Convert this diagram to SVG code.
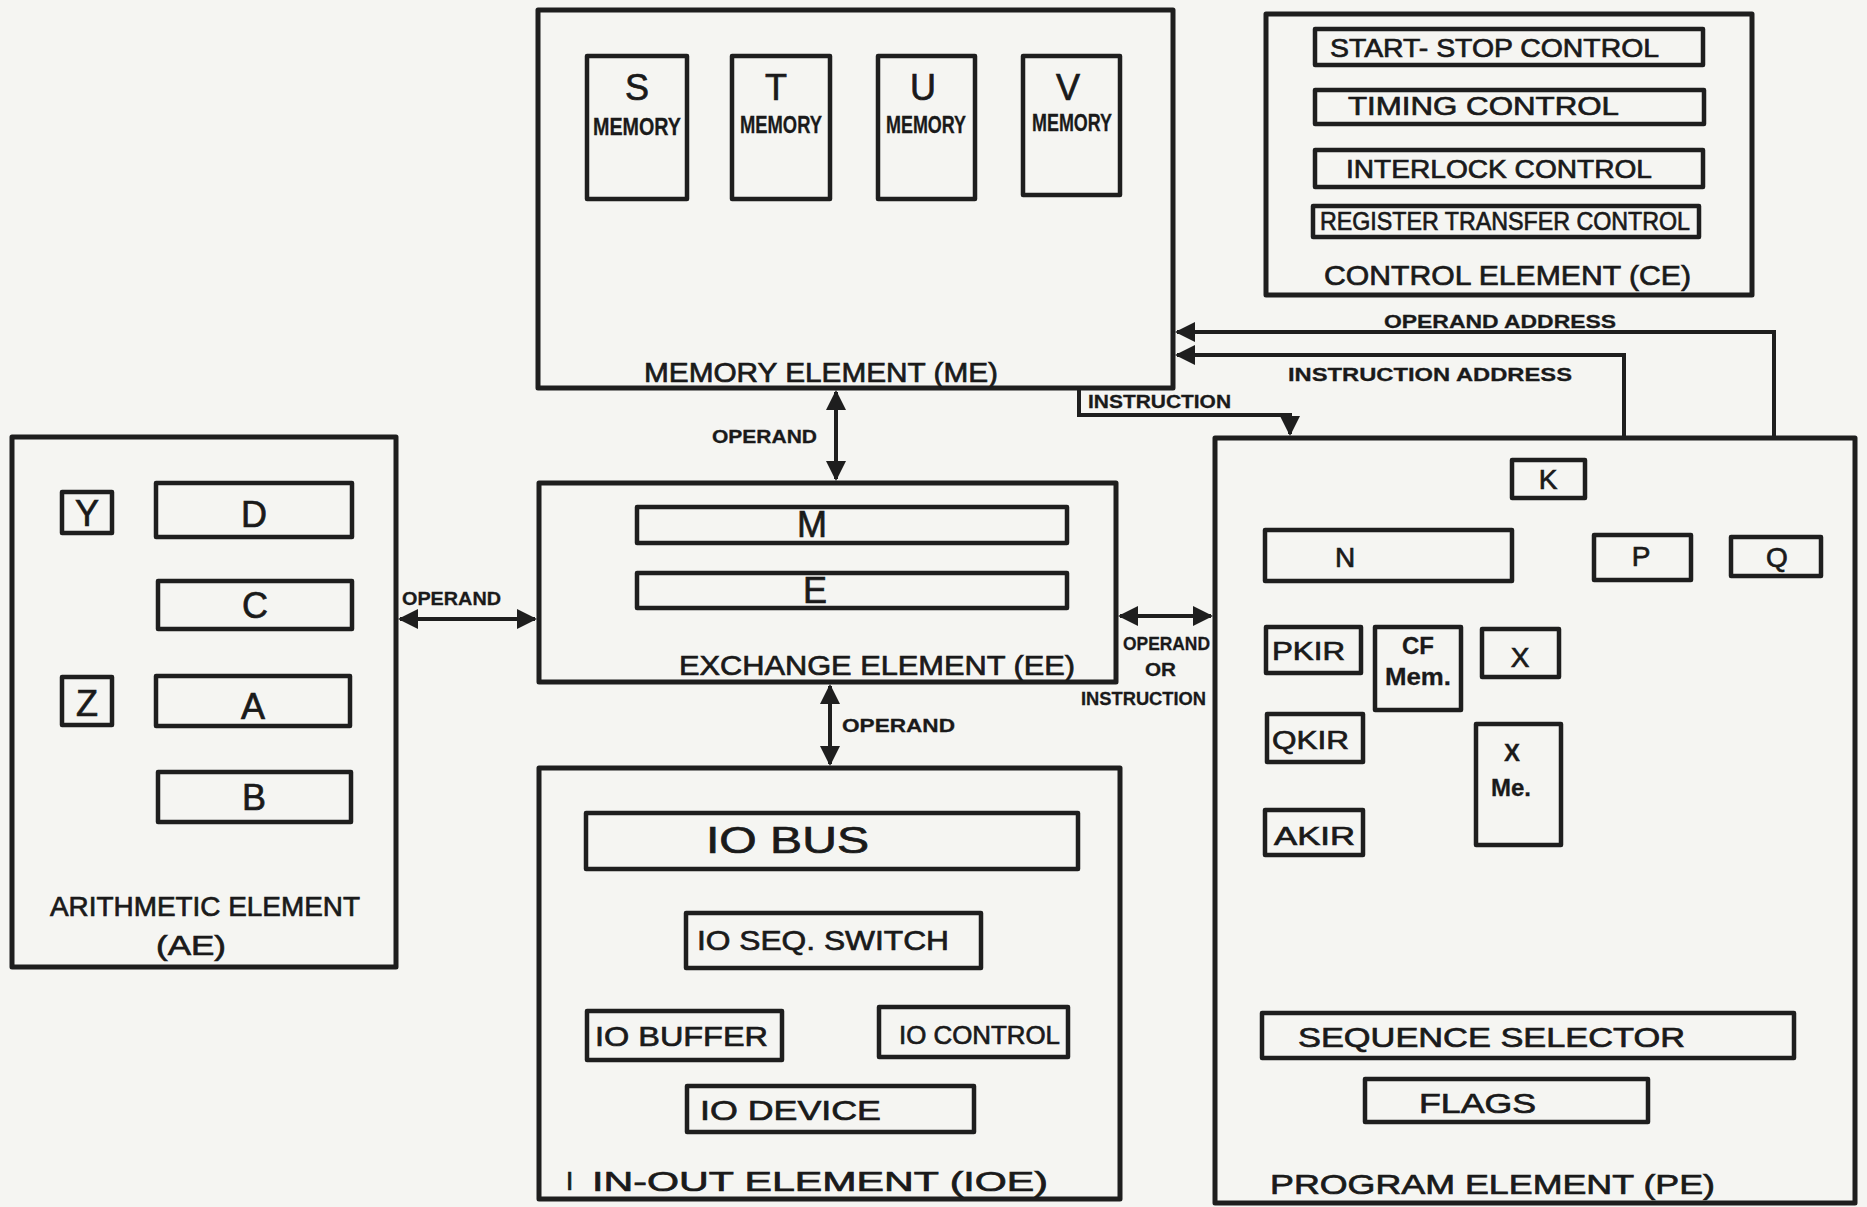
<svg xmlns="http://www.w3.org/2000/svg" width="1867" height="1207" viewBox="0 0 1867 1207">
<style>
.bg{fill:#f5f5f2}
.outer{fill:none;stroke:#1e1e1e;stroke-width:5;stroke-linejoin:round}
.inner{fill:none;stroke:#1e1e1e;stroke-width:4.5;stroke-linejoin:round}
.conn{fill:none;stroke:#1e1e1e;stroke-width:4}
text{font-family:"Liberation Sans","DejaVu Sans",sans-serif;fill:#1a1a1a;stroke:#1a1a1a;stroke-width:0.7}
.lbl{font-size:28px}
.big{font-size:36px}
.mid{font-size:26px}
.sm{font-size:19px;font-weight:bold;stroke-width:0.3}
.mem{font-size:24px;font-weight:bold;stroke-width:0.3}
</style>
<defs>
<marker id="ah" viewBox="0 0 10 10" refX="9" refY="5" markerWidth="24" markerHeight="20" markerUnits="userSpaceOnUse" orient="auto-start-reverse">
<path d="M0,0 L10,5 L0,10 Z" fill="#1e1e1e"/>
</marker>
</defs>
<rect class="bg" x="0" y="0" width="1867" height="1207"/>

<g id="ME">
<rect class="outer" x="538" y="10" width="635" height="378"/>
<rect class="inner" x="587" y="56" width="100" height="143"/>
<rect class="inner" x="732" y="56" width="98" height="143"/>
<rect class="inner" x="878" y="56" width="97" height="143"/>
<rect class="inner" x="1023" y="56" width="97" height="139"/>
<text class="big" x="637" y="100" text-anchor="middle">S</text>
<text class="big" x="776" y="100" text-anchor="middle">T</text>
<text class="big" x="923" y="100" text-anchor="middle">U</text>
<text class="big" x="1068" y="100" text-anchor="middle">V</text>
<text class="mem" x="637" y="135" text-anchor="middle" textLength="88" lengthAdjust="spacingAndGlyphs">MEMORY</text>
<text class="mem" x="781" y="133" text-anchor="middle" textLength="82" lengthAdjust="spacingAndGlyphs">MEMORY</text>
<text class="mem" x="926" y="133" text-anchor="middle" textLength="80" lengthAdjust="spacingAndGlyphs">MEMORY</text>
<text class="mem" x="1072" y="131" text-anchor="middle" textLength="80" lengthAdjust="spacingAndGlyphs">MEMORY</text>
<text class="lbl" x="644" y="382" textLength="354" lengthAdjust="spacingAndGlyphs">MEMORY ELEMENT (ME)</text>
</g>

<g id="CE">
<rect class="outer" x="1266" y="14" width="486" height="281"/>
<rect class="inner" x="1315" y="29" width="388" height="36"/>
<rect class="inner" x="1315" y="90" width="389" height="34"/>
<rect class="inner" x="1315" y="150" width="388" height="37"/>
<rect class="inner" x="1313" y="206" width="386" height="31"/>
<text class="mid" x="1330" y="57" textLength="329" lengthAdjust="spacingAndGlyphs">START- STOP CONTROL</text>
<text class="mid" x="1348" y="115" textLength="271" lengthAdjust="spacingAndGlyphs">TIMING CONTROL</text>
<text class="mid" x="1346" y="178" textLength="306" lengthAdjust="spacingAndGlyphs">INTERLOCK CONTROL</text>
<text class="mid" x="1320" y="230" textLength="370" lengthAdjust="spacingAndGlyphs">REGISTER TRANSFER CONTROL</text>
<text class="lbl" x="1324" y="285" textLength="367" lengthAdjust="spacingAndGlyphs">CONTROL ELEMENT (CE)</text>
</g>

<g id="AE">
<rect class="outer" x="12" y="437" width="384" height="530"/>
<rect class="inner" x="62" y="492" width="50" height="41"/>
<rect class="inner" x="156" y="483" width="196" height="54"/>
<rect class="inner" x="158" y="581" width="194" height="48"/>
<rect class="inner" x="62" y="677" width="50" height="48"/>
<rect class="inner" x="156" y="676" width="194" height="50"/>
<rect class="inner" x="158" y="772" width="193" height="50"/>
<text class="big" x="87" y="526" text-anchor="middle" font-size="32">Y</text>
<text class="big" x="87" y="716" text-anchor="middle" font-size="32">Z</text>
<text class="big" x="254" y="527" text-anchor="middle">D</text>
<text class="big" x="255" y="618" text-anchor="middle">C</text>
<text class="big" x="253" y="719" text-anchor="middle">A</text>
<text class="big" x="254" y="810" text-anchor="middle">B</text>
<text class="lbl" x="50" y="916" textLength="310" lengthAdjust="spacingAndGlyphs">ARITHMETIC ELEMENT</text>
<text class="lbl" x="156" y="955" textLength="70" lengthAdjust="spacingAndGlyphs">(AE)</text>
</g>

<g id="EE">
<rect class="outer" x="539" y="483" width="577" height="199"/>
<rect class="inner" x="637" y="507" width="430" height="36"/>
<rect class="inner" x="637" y="573" width="430" height="35"/>
<text class="big" x="812" y="537" text-anchor="middle" font-size="32">M</text>
<text class="big" x="815" y="603" text-anchor="middle" font-size="32">E</text>
<text class="lbl" x="679" y="675" textLength="396" lengthAdjust="spacingAndGlyphs">EXCHANGE ELEMENT (EE)</text>
</g>

<g id="IOE">
<rect class="outer" x="539" y="768" width="581" height="431"/>
<rect class="inner" x="586" y="813" width="492" height="56"/>
<rect class="inner" x="686" y="913" width="295" height="55"/>
<rect class="inner" x="587" y="1011" width="195" height="49"/>
<rect class="inner" x="879" y="1007" width="189" height="50"/>
<rect class="inner" x="687" y="1086" width="287" height="46"/>
<text class="big" x="706" y="853" textLength="163" lengthAdjust="spacingAndGlyphs">IO BUS</text>
<text class="lbl" x="697" y="950" textLength="252" lengthAdjust="spacingAndGlyphs">IO SEQ. SWITCH</text>
<text class="lbl" x="595" y="1046" textLength="173" lengthAdjust="spacingAndGlyphs">IO BUFFER</text>
<text class="mid" x="899" y="1044" textLength="161" lengthAdjust="spacingAndGlyphs">IO CONTROL</text>
<text class="lbl" x="700" y="1120" textLength="181" lengthAdjust="spacingAndGlyphs">IO DEVICE</text>
<text class="mid" x="566" y="1190" fill="#555" stroke="none">I</text>
<text class="lbl" x="592" y="1191" textLength="456" lengthAdjust="spacingAndGlyphs">IN-OUT ELEMENT (IOE)</text>
</g>

<g id="PE">
<rect class="outer" x="1215" y="438" width="640" height="765"/>
<rect class="inner" x="1512" y="460" width="73" height="38"/>
<rect class="inner" x="1265" y="530" width="247" height="51"/>
<rect class="inner" x="1594" y="535" width="97" height="45"/>
<rect class="inner" x="1731" y="537" width="90" height="39"/>
<rect class="inner" x="1266" y="627" width="95" height="46"/>
<rect class="inner" x="1375" y="627" width="86" height="83"/>
<rect class="inner" x="1482" y="629" width="77" height="48"/>
<rect class="inner" x="1267" y="714" width="96" height="48"/>
<rect class="inner" x="1476" y="724" width="85" height="121"/>
<rect class="inner" x="1265" y="810" width="98" height="45"/>
<rect class="inner" x="1262" y="1013" width="532" height="45"/>
<rect class="inner" x="1365" y="1079" width="283" height="43"/>
<text class="lbl" x="1548" y="489" text-anchor="middle" font-size="30">K</text>
<text class="lbl" x="1345" y="567" text-anchor="middle" font-size="32">N</text>
<text class="lbl" x="1641" y="566" text-anchor="middle" font-size="30">P</text>
<text class="lbl" x="1777" y="567" text-anchor="middle" font-size="30">Q</text>
<text class="mid" x="1272" y="660" textLength="73" lengthAdjust="spacingAndGlyphs">PKIR</text>
<text class="mem" x="1418" y="654" text-anchor="middle">CF</text>
<text class="mem" x="1418" y="685" text-anchor="middle" textLength="66" lengthAdjust="spacingAndGlyphs">Mem.</text>
<text class="lbl" x="1520" y="667" text-anchor="middle" font-size="34">X</text>
<text class="mid" x="1272" y="749" textLength="77" lengthAdjust="spacingAndGlyphs">QKIR</text>
<text class="mem" x="1512" y="761" text-anchor="middle">X</text>
<text class="mem" x="1511" y="796" text-anchor="middle">Me.</text>
<text class="mid" x="1274" y="845" textLength="81" lengthAdjust="spacingAndGlyphs">AKIR</text>
<text class="lbl" x="1298" y="1047" textLength="387" lengthAdjust="spacingAndGlyphs">SEQUENCE SELECTOR</text>
<text class="lbl" x="1419" y="1113" textLength="117" lengthAdjust="spacingAndGlyphs">FLAGS</text>
<text class="lbl" x="1270" y="1194" textLength="445" lengthAdjust="spacingAndGlyphs">PROGRAM ELEMENT (PE)</text>
</g>

<g id="connectors">
<path class="conn" d="M836,392 L836,479" marker-start="url(#ah)" marker-end="url(#ah)"/>
<text class="sm" x="712" y="443" textLength="105" lengthAdjust="spacingAndGlyphs">OPERAND</text>
<path class="conn" d="M400,619 L535,619" marker-start="url(#ah)" marker-end="url(#ah)"/>
<text class="sm" x="402" y="605" textLength="99" lengthAdjust="spacingAndGlyphs">OPERAND</text>
<path class="conn" d="M830,686 L830,764" marker-start="url(#ah)" marker-end="url(#ah)"/>
<text class="sm" x="842" y="732" textLength="113" lengthAdjust="spacingAndGlyphs">OPERAND</text>
<path class="conn" d="M1120,616 L1211,616" marker-start="url(#ah)" marker-end="url(#ah)"/>
<text class="sm" x="1123" y="650" textLength="87" lengthAdjust="spacingAndGlyphs">OPERAND</text>
<text class="sm" x="1145" y="676" textLength="31" lengthAdjust="spacingAndGlyphs">OR</text>
<text class="sm" x="1081" y="705" textLength="125" lengthAdjust="spacingAndGlyphs">INSTRUCTION</text>
<path class="conn" d="M1774,438 L1774,332 L1177,332" marker-end="url(#ah)"/>
<text class="sm" x="1384" y="328" textLength="232" lengthAdjust="spacingAndGlyphs">OPERAND ADDRESS</text>
<path class="conn" d="M1624,438 L1624,355 L1177,355" marker-end="url(#ah)"/>
<text class="sm" x="1288" y="381" textLength="284" lengthAdjust="spacingAndGlyphs">INSTRUCTION ADDRESS</text>
<path class="conn" d="M1079,388 L1079,415 L1290,415 L1290,434" marker-end="url(#ah)"/>
<text class="sm" x="1088" y="408" textLength="143" lengthAdjust="spacingAndGlyphs">INSTRUCTION</text>
</g>
</svg>
